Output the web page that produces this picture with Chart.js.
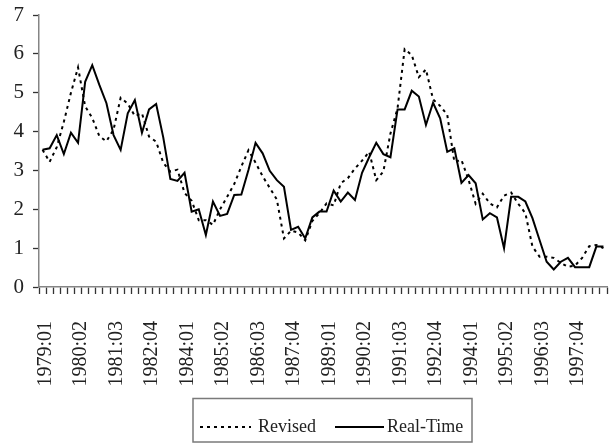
<!DOCTYPE html>
<html>
<head>
<meta charset="utf-8">
<script src="https://cdn.jsdelivr.net/npm/chart.js@4/dist/chart.umd.min.js"></script>
<style>
  html, body { margin: 0; padding: 0; background: #fff; }
  #wrap { width: 612px; height: 445px; position: relative; }
</style>
</head>
<body>
<div id="wrap"><canvas id="chart" width="612" height="445"></canvas></div>
<script>
// Quarterly periods 1979:01 .. 1998:04
const firstYear = 1979;
const lastYear = 1998;
const quarters = [];
for (let y = firstYear; y <= lastYear; y++) {
  for (let q = 1; q <= 4; q++) quarters.push(y + ':0' + q);
}

// Revised series
const revised = [
  3.53, 3.22, 3.60, 4.25, 5.00, 5.65, 4.65, 4.35, 3.88, 3.75,
  4.05, 4.87, 4.72, 4.40, 4.47, 3.87, 3.74, 3.20, 2.97, 3.02,
  2.42, 2.22, 1.72, 1.72, 1.60, 2.00, 2.32, 2.65, 3.10, 3.52,
  3.20, 2.85, 2.55, 2.25, 1.25, 1.45, 1.40, 1.20, 1.70, 1.90,
  2.15, 2.10, 2.67, 2.80, 3.05, 3.25, 3.48, 2.75, 2.97, 3.95,
  4.60, 6.12, 5.97, 5.40, 5.60, 4.83, 4.66, 4.43, 3.22, 3.27,
  2.76, 2.14, 2.40, 2.15, 2.05, 2.35, 2.43, 2.14, 1.90, 1.04,
  0.78, 0.78, 0.75, 0.62, 0.52, 0.55, 0.75, 1.05, 1.08, 1.00
];

// Real-time series
const realTime = [
  3.53, 3.57, 3.91, 3.42, 3.97, 3.71, 5.28, 5.71, 5.20, 4.73,
  3.91, 3.53, 4.47, 4.81, 3.97, 4.57, 4.71, 3.85, 2.78, 2.73,
  2.94, 1.94, 2.00, 1.34, 2.20, 1.83, 1.88, 2.37, 2.38, 3.01,
  3.71, 3.44, 2.99, 2.75, 2.58, 1.47, 1.55, 1.25, 1.79, 1.94,
  1.94, 2.48, 2.20, 2.43, 2.24, 2.94, 3.34, 3.71, 3.42, 3.34,
  4.57, 4.57, 5.05, 4.90, 4.17, 4.74, 4.34, 3.48, 3.57, 2.68,
  2.88, 2.67, 1.74, 1.90, 1.79, 1.00, 2.32, 2.32, 2.20, 1.77,
  1.21, 0.65, 0.45, 0.65, 0.75, 0.51, 0.51, 0.51, 1.04, 1.04
];

// Value-axis ticks
const yTicks = [0, 1, 2, 3, 4, 5, 6, 7];
// A period label is printed every fifth quarter
const labelEvery = 5;

const serif = "'Liberation Serif', 'Times New Roman', Times, serif";
const textColor = '#222';
const axisColor = '#858585';

// Boxed legend under the plot: line sample followed by the series name
const boxedLegend = {
  id: 'boxedLegend',
  afterDraw(chart, args, opts) {
    const ctx = chart.ctx;
    ctx.save();
    ctx.strokeStyle = opts.borderColor;
    ctx.lineWidth = opts.borderWidth;
    ctx.strokeRect(opts.box.x, opts.box.y, opts.box.w, opts.box.h);
    ctx.font = opts.fontSize + 'px ' + serif;
    ctx.fillStyle = textColor;
    ctx.textBaseline = 'alphabetic';
    chart.data.datasets.forEach((ds, i) => {
      const it = opts.items[i];
      ctx.beginPath();
      ctx.setLineDash(ds.borderDash || []);
      ctx.strokeStyle = ds.borderColor;
      ctx.lineWidth = ds.borderWidth;
      ctx.moveTo(it.x0, opts.lineY);
      ctx.lineTo(it.x1, opts.lineY);
      ctx.stroke();
      ctx.setLineDash([]);
      ctx.fillText(ds.label, it.tx, opts.textY);
    });
    ctx.restore();
  }
};

new Chart(document.getElementById('chart'), {
  type: 'line',
  data: {
    labels: quarters,
    datasets: [
      {
        label: 'Revised',
        data: revised,
        borderColor: '#000',
        borderWidth: 2,
        borderDash: [3, 4],
        pointRadius: 0,
        tension: 0,
        fill: false
      },
      {
        label: 'Real-Time',
        data: realTime,
        borderColor: '#000',
        borderWidth: 2,
        pointRadius: 0,
        tension: 0,
        fill: false
      }
    ]
  },
  options: {
    responsive: false,
    animation: false,
    devicePixelRatio: 1,
    layout: { padding: { top: 15, right: 5, bottom: 58, left: 0 } },
    plugins: {
      legend: { display: false },
      tooltip: { enabled: false },
      boxedLegend: {
        box: { x: 193, y: 398.5, w: 279, h: 43.5 },
        borderColor: '#7a7a7a',
        borderWidth: 1.5,
        fontSize: 18,
        lineY: 427,
        textY: 432,
        items: [
          { x0: 200, x1: 251, tx: 258 },
          { x0: 335, x1: 384, tx: 387 }
        ]
      }
    },
    scales: {
      x: {
        type: 'category',
        offset: true,
        grid: {
          offset: true,
          drawOnChartArea: false,
          drawTicks: true,
          tickLength: 7,
          tickColor: '#333',
          tickWidth: 1.3
        },
        border: { display: true, color: axisColor, width: 1.5 },
        ticks: {
          autoSkip: false,
          minRotation: 90,
          maxRotation: 90,
          padding: 27,
          labelOffset: 3,
          color: textColor,
          font: { family: serif, size: 20 },
          callback: (v, i) => (i % labelEvery === 0 ? quarters[i] : '')
        },
        afterFit: s => { s.height = 100; s.paddingLeft = 0; s.paddingRight = 0; }
      },
      y: {
        min: 0,
        max: 7,
        afterBuildTicks: s => { s.ticks = yTicks.map(v => ({ value: v })); },
        grid: {
          drawOnChartArea: false,
          tickLength: 6,
          tickColor: '#333',
          tickWidth: 1.3
        },
        border: { display: true, color: axisColor, width: 1.5 },
        ticks: {
          padding: 9,
          color: textColor,
          font: { family: serif, size: 21 }
        },
        afterFit: s => { s.width = 39; s.paddingTop = 0; s.paddingBottom = 0; }
      }
    }
  },
  plugins: [boxedLegend]
});
</script>
</body>
</html>
